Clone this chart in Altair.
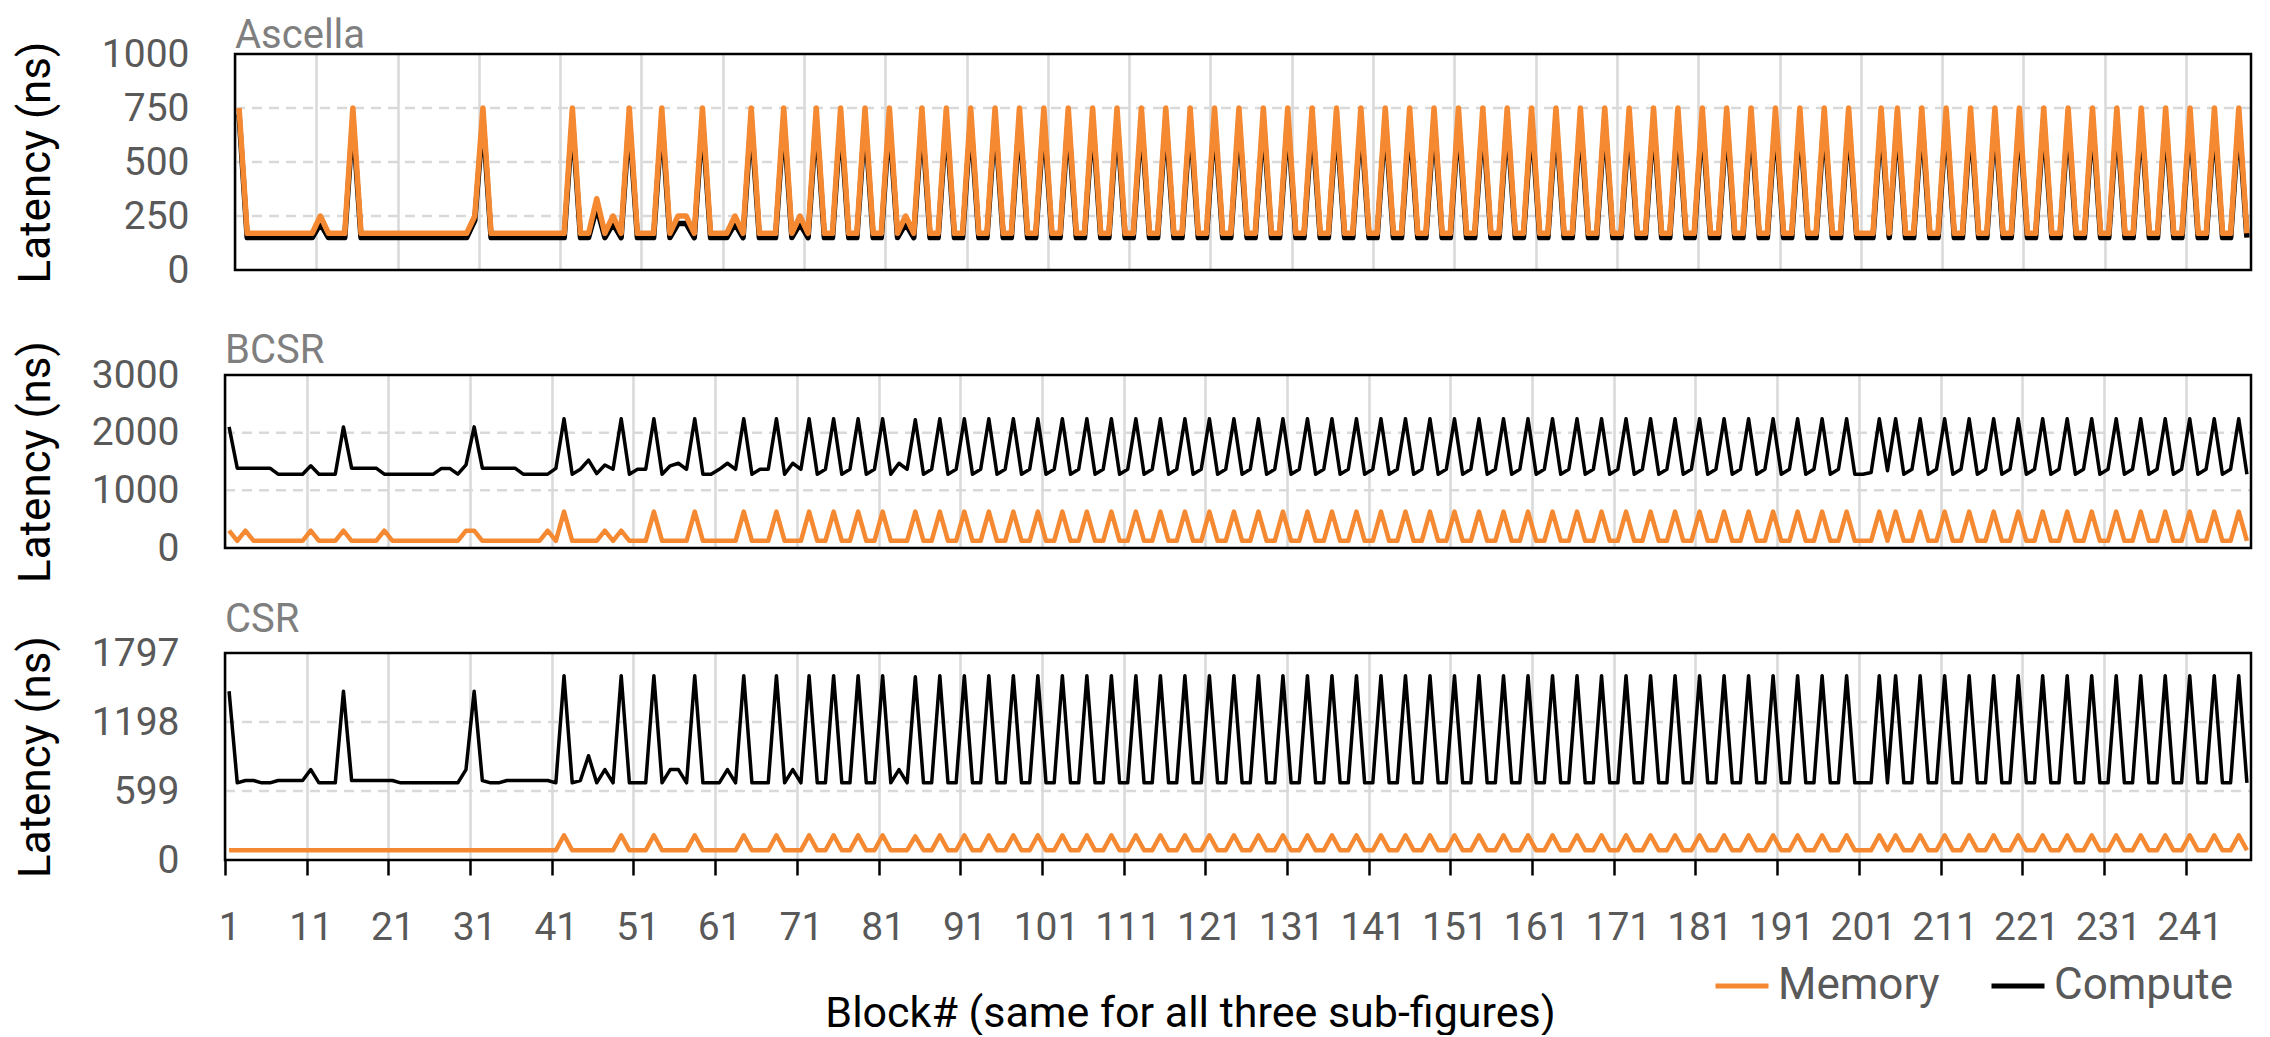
import altair as alt
import pandas as pd

# Block numbers 1..248
blocks = list(range(1, 249))

ascella_memory = [
    750, 170, 170, 170, 170, 170, 170, 170, 170, 170,
    250, 170, 170, 170, 750, 170, 170, 170, 170, 170,
    170, 170, 170, 170, 170, 170, 170, 170, 170, 250,
    750, 170, 170, 170, 170, 170, 170, 170, 170, 170,
    170, 750, 170, 170, 330, 170, 250, 170, 750, 170,
    170, 170, 750, 170, 250, 250, 170, 750, 170, 170,
    170, 250, 170, 750, 170, 170, 170, 750, 170, 250,
    170, 750, 170, 170, 750, 170, 170, 750, 170, 170,
    750, 170, 250, 170, 750, 170, 170, 750, 170, 170,
    750, 170, 170, 750, 170, 170, 750, 170, 170, 750,
    170, 170, 750, 170, 170, 750, 170, 170, 750, 170,
    170, 750, 170, 170, 750, 170, 170, 750, 170, 170,
    750, 170, 170, 750, 170, 170, 750, 170, 170, 750,
    170, 170, 750, 170, 170, 750, 170, 170, 750, 170,
    170, 750, 170, 170, 750, 170, 170, 750, 170, 170,
    750, 170, 170, 750, 170, 170, 750, 170, 170, 750,
    170, 170, 750, 170, 170, 750, 170, 170, 750, 170,
    170, 750, 170, 170, 750, 170, 170, 750, 170, 170,
    750, 170, 170, 750, 170, 170, 750, 170, 170, 750,
    170, 170, 750, 170, 170, 750, 170, 170, 750, 170,
    170, 170, 750, 170, 750, 170, 170, 750, 170, 170,
    750, 170, 170, 750, 170, 170, 750, 170, 170, 750,
    170, 170, 750, 170, 170, 750, 170, 170, 750, 170,
    170, 750, 170, 170, 750, 170, 170, 750, 170, 170,
    750, 170, 170, 750, 170, 170, 750, 170,
]

ascella_compute = [
    720, 150, 150, 150, 150, 150, 150, 150, 150, 150,
    215, 150, 150, 150, 700, 150, 150, 150, 150, 150,
    150, 150, 150, 150, 150, 150, 150, 150, 150, 230,
    700, 150, 150, 150, 150, 150, 150, 150, 150, 150,
    150, 700, 150, 150, 290, 150, 215, 150, 700, 150,
    150, 150, 700, 150, 215, 215, 150, 700, 150, 150,
    150, 215, 150, 700, 150, 150, 150, 700, 150, 215,
    150, 700, 150, 150, 700, 150, 150, 700, 150, 150,
    700, 150, 215, 150, 700, 150, 150, 700, 150, 150,
    700, 150, 150, 700, 150, 150, 700, 150, 150, 700,
    150, 150, 700, 150, 150, 700, 150, 150, 700, 150,
    150, 700, 150, 150, 700, 150, 150, 700, 150, 150,
    700, 150, 150, 700, 150, 150, 700, 150, 150, 700,
    150, 150, 700, 150, 150, 700, 150, 150, 700, 150,
    150, 700, 150, 150, 700, 150, 150, 700, 150, 150,
    700, 150, 150, 700, 150, 150, 700, 150, 150, 700,
    150, 150, 700, 150, 150, 700, 150, 150, 700, 150,
    150, 700, 150, 150, 700, 150, 150, 700, 150, 150,
    700, 150, 150, 700, 150, 150, 700, 150, 150, 700,
    150, 150, 700, 150, 150, 700, 150, 150, 700, 150,
    150, 150, 700, 150, 700, 150, 150, 700, 150, 150,
    700, 150, 150, 700, 150, 150, 700, 150, 150, 700,
    150, 150, 700, 150, 150, 700, 150, 150, 700, 150,
    150, 700, 150, 150, 700, 150, 150, 700, 150, 150,
    700, 150, 150, 700, 150, 150, 700, 150,
]

bcsr_memory = [
    300, 125, 300, 125, 125, 125, 125, 125, 125, 125,
    300, 125, 125, 125, 300, 125, 125, 125, 125, 300,
    125, 125, 125, 125, 125, 125, 125, 125, 125, 300,
    300, 125, 125, 125, 125, 125, 125, 125, 125, 300,
    125, 630, 125, 125, 125, 125, 300, 125, 300, 125,
    125, 125, 630, 125, 125, 125, 125, 630, 125, 125,
    125, 125, 125, 630, 125, 125, 125, 630, 125, 125,
    125, 630, 125, 125, 630, 125, 125, 630, 125, 125,
    630, 125, 125, 125, 630, 125, 125, 630, 125, 125,
    630, 125, 125, 630, 125, 125, 630, 125, 125, 630,
    125, 125, 630, 125, 125, 630, 125, 125, 630, 125,
    125, 630, 125, 125, 630, 125, 125, 630, 125, 125,
    630, 125, 125, 630, 125, 125, 630, 125, 125, 630,
    125, 125, 630, 125, 125, 630, 125, 125, 630, 125,
    125, 630, 125, 125, 630, 125, 125, 630, 125, 125,
    630, 125, 125, 630, 125, 125, 630, 125, 125, 630,
    125, 125, 630, 125, 125, 630, 125, 125, 630, 125,
    125, 630, 125, 125, 630, 125, 125, 630, 125, 125,
    630, 125, 125, 630, 125, 125, 630, 125, 125, 630,
    125, 125, 630, 125, 125, 630, 125, 125, 630, 125,
    125, 125, 630, 125, 630, 125, 125, 630, 125, 125,
    630, 125, 125, 630, 125, 125, 630, 125, 125, 630,
    125, 125, 630, 125, 125, 630, 125, 125, 630, 125,
    125, 630, 125, 125, 630, 125, 125, 630, 125, 125,
    630, 125, 125, 630, 125, 125, 630, 125,
]

bcsr_compute = [
    2100, 1385, 1385, 1385, 1385, 1385, 1280, 1280, 1280, 1280,
    1425, 1280, 1280, 1280, 2100, 1385, 1385, 1385, 1385, 1280,
    1280, 1280, 1280, 1280, 1280, 1280, 1380, 1380, 1280, 1440,
    2100, 1385, 1385, 1385, 1385, 1385, 1280, 1280, 1280, 1280,
    1380, 2240, 1280, 1365, 1525, 1290, 1440, 1365, 2240, 1280,
    1365, 1365, 2240, 1280, 1425, 1470, 1365, 2240, 1280, 1280,
    1365, 1470, 1365, 2240, 1280, 1365, 1365, 2240, 1280, 1470,
    1365, 2240, 1280, 1365, 2240, 1280, 1365, 2240, 1280, 1365,
    2240, 1280, 1470, 1365, 2225, 1280, 1365, 2240, 1280, 1365,
    2240, 1280, 1365, 2240, 1280, 1365, 2240, 1280, 1365, 2240,
    1280, 1365, 2240, 1280, 1365, 2240, 1280, 1365, 2240, 1280,
    1365, 2240, 1280, 1365, 2240, 1280, 1365, 2240, 1280, 1365,
    2240, 1280, 1365, 2240, 1280, 1365, 2240, 1280, 1365, 2240,
    1280, 1365, 2240, 1280, 1365, 2240, 1280, 1365, 2240, 1280,
    1365, 2240, 1280, 1365, 2240, 1280, 1365, 2240, 1280, 1365,
    2240, 1280, 1365, 2240, 1280, 1365, 2240, 1280, 1365, 2240,
    1280, 1365, 2240, 1280, 1365, 2240, 1280, 1365, 2240, 1280,
    1365, 2240, 1280, 1365, 2240, 1280, 1365, 2240, 1280, 1365,
    2240, 1280, 1365, 2240, 1280, 1365, 2240, 1280, 1365, 2240,
    1280, 1365, 2240, 1280, 1365, 2240, 1280, 1365, 2240, 1280,
    1280, 1310, 2240, 1340, 2240, 1280, 1365, 2240, 1280, 1365,
    2240, 1280, 1365, 2240, 1280, 1365, 2240, 1280, 1365, 2240,
    1280, 1365, 2240, 1280, 1365, 2240, 1280, 1365, 2240, 1280,
    1365, 2240, 1280, 1365, 2240, 1280, 1365, 2240, 1280, 1365,
    2240, 1280, 1365, 2240, 1280, 1365, 2240, 1280,
]

csr_memory = [
    85, 85, 85, 85, 85, 85, 85, 85, 85, 85,
    85, 85, 85, 85, 85, 85, 85, 85, 85, 85,
    85, 85, 85, 85, 85, 85, 85, 85, 85, 85,
    85, 85, 85, 85, 85, 85, 85, 85, 85, 85,
    85, 215, 85, 85, 85, 85, 85, 85, 215, 85,
    85, 85, 215, 85, 85, 85, 85, 215, 85, 85,
    85, 85, 85, 215, 85, 85, 85, 215, 85, 85,
    85, 215, 85, 85, 215, 85, 85, 215, 85, 85,
    215, 85, 85, 85, 205, 85, 85, 215, 85, 85,
    215, 85, 85, 215, 85, 85, 215, 85, 85, 215,
    85, 85, 215, 85, 85, 215, 85, 85, 215, 85,
    85, 215, 85, 85, 215, 85, 85, 215, 85, 85,
    215, 85, 85, 215, 85, 85, 215, 85, 85, 215,
    85, 85, 215, 85, 85, 215, 85, 85, 215, 85,
    85, 215, 85, 85, 215, 85, 85, 215, 85, 85,
    215, 85, 85, 215, 85, 85, 215, 85, 85, 215,
    85, 85, 215, 85, 85, 215, 85, 85, 215, 85,
    85, 215, 85, 85, 215, 85, 85, 215, 85, 85,
    215, 85, 85, 215, 85, 85, 215, 85, 85, 215,
    85, 85, 215, 85, 85, 215, 85, 85, 215, 85,
    85, 85, 215, 85, 215, 85, 85, 215, 85, 85,
    215, 85, 85, 215, 85, 85, 215, 85, 85, 215,
    85, 85, 215, 85, 85, 215, 85, 85, 215, 85,
    85, 215, 85, 85, 215, 85, 85, 215, 85, 85,
    215, 85, 85, 215, 85, 85, 215, 85,
]

csr_compute = [
    1465, 670, 690, 690, 670, 670, 690, 690, 690, 690,
    785, 670, 670, 670, 1465, 690, 690, 690, 690, 690,
    690, 670, 670, 670, 670, 670, 670, 670, 670, 785,
    1465, 690, 670, 670, 690, 690, 690, 690, 690, 690,
    670, 1600, 670, 690, 905, 670, 785, 670, 1600, 670,
    670, 670, 1600, 670, 785, 785, 670, 1600, 670, 670,
    670, 785, 670, 1600, 670, 670, 670, 1600, 670, 785,
    670, 1600, 670, 670, 1600, 670, 670, 1600, 670, 670,
    1600, 670, 785, 670, 1590, 670, 670, 1600, 670, 670,
    1600, 670, 670, 1600, 670, 670, 1600, 670, 670, 1600,
    670, 670, 1600, 670, 670, 1600, 670, 670, 1600, 670,
    670, 1600, 670, 670, 1600, 670, 670, 1600, 670, 670,
    1600, 670, 670, 1600, 670, 670, 1600, 670, 670, 1600,
    670, 670, 1600, 670, 670, 1600, 670, 670, 1600, 670,
    670, 1600, 670, 670, 1600, 670, 670, 1600, 670, 670,
    1600, 670, 670, 1600, 670, 670, 1600, 670, 670, 1600,
    670, 670, 1600, 670, 670, 1600, 670, 670, 1600, 670,
    670, 1600, 670, 670, 1600, 670, 670, 1600, 670, 670,
    1600, 670, 670, 1600, 670, 670, 1600, 670, 670, 1600,
    670, 670, 1600, 670, 670, 1600, 670, 670, 1600, 670,
    670, 670, 1600, 670, 1600, 670, 670, 1600, 670, 670,
    1600, 670, 670, 1600, 670, 670, 1600, 670, 670, 1600,
    670, 670, 1600, 670, 670, 1600, 670, 670, 1600, 670,
    670, 1600, 670, 670, 1600, 670, 670, 1600, 670, 670,
    1600, 670, 670, 1600, 670, 670, 1600, 670,
]

series_names = ["Memory", "Compute"]
series_colors = ["#f58932", "#000000"]
x_tick_labels = list(range(1, 249, 10))  # 1, 11, ..., 241

ascella_ticks = [0, 250, 500, 750, 1000]
bcsr_ticks = [0, 1000, 2000, 3000]
csr_ticks = [0, 599, 1198, 1797]

FONT = "Roboto"
N = len(blocks)
W = 2026
X_DOMAIN = [0.5, N + 0.5]
X_TICKS = [v - 0.5 for v in x_tick_labels]


def panel(title, mem, comp, yticks, height, mem_w, comp_w, x0, title_off,
          label_pad, title_pad, bottom=False):
    ymax = yticks[-1]
    df = pd.DataFrame({
        "Block": blocks + blocks,
        "Latency": mem + comp,
        "Series": ["Memory"] * N + ["Compute"] * N,
    })
    plot_w = W - x0
    if bottom:
        xaxis = alt.Axis(
            values=X_TICKS, grid=True, gridColor="#d9d9d9", gridWidth=2.5,
            domain=False, ticks=True, tickSize=15, tickColor="black", tickWidth=2.5,
            labels=True, labelExpr="format(datum.value + 0.5, 'd')",
            labelOffset=plot_w / N / 2, labelFlush=False, labelOverlap=False,
            labelPadding=33, labelFont=FONT, labelFontSize=39, labelColor="#595959",
            title="Block# (same for all three sub-figures)", titleFont=FONT,
            titleFontSize=43, titleFontWeight="normal", titleColor="black",
            titleX=965, titleY=166, titleAlign="center", titleBaseline="alphabetic",
        )
        legend = alt.Legend(
            orient="none", legendX=1488, legendY=304, direction="horizontal",
            title=None, symbolType="stroke", symbolSize=2809, symbolStrokeWidth=5,
            labelFont=FONT, labelFontSize=44, labelColor="#595959", labelOffset=7,
            labelLimit=400, columnPadding=41, padding=0,
        )
    else:
        xaxis = alt.Axis(
            values=X_TICKS, grid=True, gridColor="#d9d9d9", gridWidth=2.5,
            domain=False, ticks=False, labels=False, title=None,
        )
        legend = None

    yaxis = alt.Axis(
        values=yticks, format="d", grid=False, domain=False, ticks=False, tickSize=0,
        labelPadding=label_pad, labelFlush=False, labelOverlap=False,
        labelFont=FONT, labelFontSize=39, labelColor="#595959",
        title="Latency (ns)", titleFont=FONT, titleFontSize=44,
        titleFontWeight="normal", titleColor="black", titlePadding=title_pad,
    )
    xscale = alt.Scale(domain=X_DOMAIN, range=[x0, W], nice=False, zero=False)
    yscale = alt.Scale(domain=[0, ymax], nice=False)
    color = alt.Color("Series:N",
                      scale=alt.Scale(domain=series_names, range=series_colors),
                      legend=legend)
    x = alt.X("Block:Q", scale=xscale, axis=xaxis)
    y = alt.Y("Latency:Q", scale=yscale, axis=yaxis)

    grid_df = pd.DataFrame({"Latency": yticks[1:-1]})
    grid = alt.Chart(grid_df).mark_rule(
        color="#d9d9d9", strokeWidth=2.5, strokeDash=[10, 7]
    ).encode(y=alt.Y("Latency:Q", scale=yscale), x=alt.value(x0), x2=alt.value(W))

    base = alt.Chart(df)
    comp_line = base.transform_filter(alt.datum.Series == "Compute").mark_line(
        strokeWidth=comp_w, strokeJoin="round").encode(x=x, y=y, color=color)
    mem_line = base.transform_filter(alt.datum.Series == "Memory").mark_line(
        strokeWidth=mem_w, strokeJoin="round").encode(x=x, y=y, color=color)

    frame = alt.Chart(pd.DataFrame({"f": [0]})).mark_rect(
        filled=False, stroke="black", strokeWidth=2.5
    ).encode(x=alt.value(x0), x2=alt.value(W), y=alt.value(0), y2=alt.value(height))

    label = alt.Chart(pd.DataFrame({"t": [title]})).mark_text(
        align="left", baseline="alphabetic", font=FONT, fontSize=40, color="#7f7f7f"
    ).encode(text="t:N", x=alt.value(x0), y=alt.value(-title_off))

    return alt.layer(grid, comp_line, mem_line, frame, label).properties(
        width=W, height=height)


p1 = panel("Ascella", ascella_memory, ascella_compute, ascella_ticks, 216,
           5.5, 5.5, 10, 6, 36, 43)
p2 = panel("BCSR", bcsr_memory, bcsr_compute, bcsr_ticks, 173,
           4.5, 3.5, 0, 12, 46, 33)
p3 = panel("CSR", csr_memory, csr_compute, csr_ticks, 207,
           4.5, 3.5, 0, 21, 46, 33, bottom=True)

chart = alt.VConcatChart(vconcat=[p1, p2, p3], spacing=105, bounds="flush").resolve_scale(
    color="independent"
).configure_view(stroke=None).properties(
    padding={"left": 6, "top": 8, "right": 5, "bottom": 0}
)

chart.save("out.html", embed_options={"renderer": "svg", "actions": False})
